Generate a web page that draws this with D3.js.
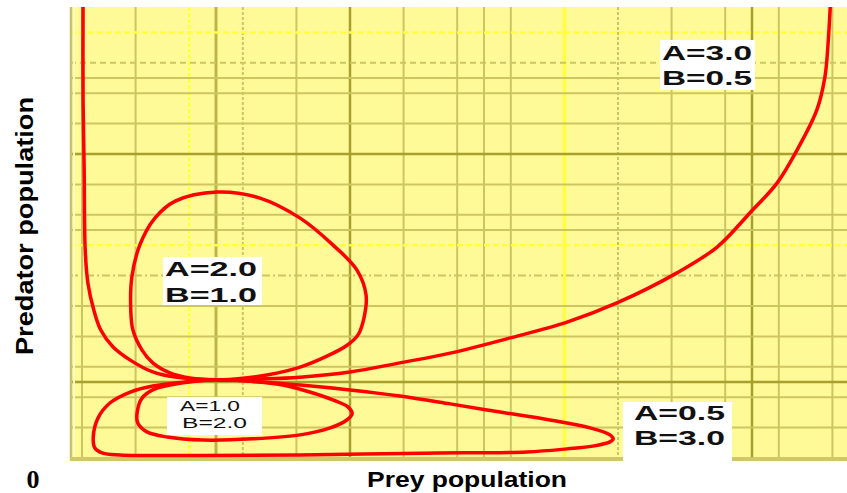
<!DOCTYPE html>
<html>
<head>
<meta charset="utf-8">
<script src="https://cdn.jsdelivr.net/npm/d3@7"></script>
<style>
  html, body { margin: 0; padding: 0; background: #ffffff; }
  svg { display: block; }
</style>
</head>
<body>
<div id="chart"></div>
<script>
// ---------- data (grid units) ----------
const xGridTicks = [0, 1, 2, 2.5, 3, 4, 5, 6, 7, 7.5, 8, 9, 10, 11, 12, 12.5, 13, 14];
const yGridTicks = [1, 2, 2.5, 3, 4, 5, 6, 7, 7.5, 8, 9, 10, 11, 12, 12.5, 13, 14];

// orbit A=2.0, B=1.0 (closed)
const orbitA2B1 = [
  [2.52,2.57],[2.01,2.63],[1.64,2.80],[1.32,3.13],[1.12,3.55],[0.95,4.21],[0.91,4.87],
  [0.93,5.95],[1.08,7.01],[1.36,7.89],[1.74,8.45],[2.52,8.75],[3.32,8.55],[4.07,7.89],
  [4.68,7.01],[5.13,6.18],[5.30,5.36],[5.26,4.60],[5.15,4.05],[4.94,3.70],[4.57,3.35],
  [4.07,2.99],[3.45,2.73],[3.00,2.62]
];
// orbit A=1.0, B=2.0 (closed)
const orbitA1B2 = [
  [2.52,2.57],[1.64,2.40],[1.32,2.24],[1.12,1.97],[1.03,1.51],[1.04,1.15],[1.21,0.86],
  [1.59,0.69],[2.26,0.59],[3.19,0.63],[4.07,0.76],[4.63,0.99],[4.94,1.25],[5.04,1.45],
  [4.96,1.68],[4.68,1.91],[4.25,2.17],[3.75,2.40],[3.32,2.50]
];
// orbit A=0.5, B=3.0 (closed)
const orbitA05B3 = [
  [2.52,2.57],[1.92,2.50],[1.32,2.37],[0.90,2.17],[0.52,1.81],[0.30,1.32],[0.21,0.69],
  [0.24,0.33],[0.39,0.16],[0.71,0.10],[2.20,0.08],[4.07,0.10],[6.36,0.16],[8.30,0.20],
  [9.05,0.30],[9.53,0.39],[9.85,0.53],[9.91,0.63],[9.85,0.76],[9.48,0.99],[8.73,1.25],
  [7.80,1.51],[6.87,1.78],[5.93,2.04],[5.00,2.24],[4.07,2.40],[3.32,2.50]
];
// orbit A=3.0, B=0.5 (leaves the plot at the top)
const orbitA3B05 = [
  [0.02,15.2],[0.02,11.78],[0.04,9.57],[0.06,6.84],[0.11,5.76],[0.22,4.87],[0.35,4.21],
  [0.58,3.65],[0.90,3.22],[1.32,2.83],[1.74,2.66],[2.52,2.57],[3.32,2.60],[4.07,2.66],
  [5.00,2.83],[5.93,3.13],[6.87,3.45],[7.99,3.95],[9.05,4.47],[9.98,5.10],[11.10,6.09],
  [11.85,6.94],[12.46,8.06],[12.97,9.05],[13.34,10.13],[13.71,11.45],[13.86,12.53],
  [13.92,13.65],[13.97,15.2]
];

const labelLines = [
  ["A=3.0", "B=0.5"],
  ["A=2.0", "B=1.0"],
  ["A=1.0", "B=2.0"],
  ["A=0.5", "B=3.0"]
];
const xTitle = "Prey population";
const yTitle = "Predator population";
const originLabel = "0";

// ---------- layout ----------
const W = 847, H = 493;
const plot = { left: 70, top: 7, right: 847, bottom: 458 };

const x = d3.scaleLinear().domain([0, 14]).range([82, 832.4]);
const y = d3.scaleLinear().domain([0, 14]).range([458, 32.4]);

const svg = d3.select("#chart").append("svg")
  .attr("width", W).attr("height", H);

svg.append("defs").append("clipPath").attr("id", "clip")
  .append("rect")
  .attr("x", plot.left).attr("y", plot.top)
  .attr("width", plot.right - plot.left).attr("height", plot.bottom - plot.top);

// background
svg.append("rect")
  .attr("x", plot.left).attr("y", plot.top)
  .attr("width", plot.right - plot.left).attr("height", plot.bottom - plot.top)
  .attr("fill", "#fffa98");

const OLIVE = "#cdc560", DARK = "#a89f2c", BRIGHT = "#ffff40";
function vStyle(v) {
  if (v === 2) return { c: BRIGHT, w: 2.5, d: "4,2" };
  if (v === 9) return { c: BRIGHT, w: 3.5, d: null };
  if (v === 3 || v === 10) return { c: OLIVE, w: 2, d: "3,2" };
  if (v === 5 || v === 12.5) return { c: DARK, w: 2.5, d: null };
  if (v === 2.5) return { c: "#bdb548", w: 3, d: null };
  return { c: OLIVE, w: 2, d: null };
}
function hStyle(v) {
  if (v === 14 || v === 7) return { c: BRIGHT, w: 2.5, d: "6,3" };
  if (v === 13) return { c: OLIVE, w: 2, d: "6,4" };
  if (v === 6) return { c: OLIVE, w: 2, d: "8,3,2,3" };
  if (v === 10 || v === 2.5) return { c: DARK, w: 2.5, d: null };
  return { c: OLIVE, w: 2, d: null };
}

const grid = svg.append("g").attr("clip-path", "url(#clip)");
grid.selectAll("line.v").data(xGridTicks).join("line")
  .attr("class", "v")
  .attr("x1", d => x(d)).attr("x2", d => x(d))
  .attr("y1", plot.top).attr("y2", plot.bottom)
  .attr("stroke", d => vStyle(d).c)
  .attr("stroke-width", d => vStyle(d).w)
  .attr("stroke-dasharray", d => vStyle(d).d);
grid.selectAll("line.h").data(yGridTicks).join("line")
  .attr("class", "h")
  .attr("y1", d => y(d)).attr("y2", d => y(d))
  .attr("x1", plot.left).attr("x2", plot.right)
  .attr("stroke", d => hStyle(d).c)
  .attr("stroke-width", d => hStyle(d).w)
  .attr("stroke-dasharray", d => hStyle(d).d);

// frame (left edge and bevelled bottom)
svg.append("line")
  .attr("x1", plot.left + 1).attr("x2", plot.left + 1)
  .attr("y1", plot.top).attr("y2", plot.bottom + 3)
  .attr("stroke", "#c9c068").attr("stroke-width", 2.5);
svg.append("line")
  .attr("x1", plot.left + 4).attr("x2", plot.left + 4)
  .attr("y1", plot.top).attr("y2", plot.bottom)
  .attr("stroke", "#fdfcc0").attr("stroke-width", 2);
svg.append("rect")
  .attr("x", plot.left).attr("y", plot.bottom - 1)
  .attr("width", plot.right - plot.left).attr("height", 4)
  .attr("fill", "#cfc768");

// orbits
const curves = svg.append("g").attr("clip-path", "url(#clip)");
const closedLine = d3.line().x(d => x(d[0])).y(d => y(d[1])).curve(d3.curveCatmullRomClosed.alpha(0.5));
const openLine = d3.line().x(d => x(d[0])).y(d => y(d[1])).curve(d3.curveCatmullRom.alpha(0.5));
[orbitA2B1, orbitA1B2, orbitA05B3].forEach(o => {
  curves.append("path").attr("d", closedLine(o))
    .attr("fill", "none").attr("stroke", "#ff0000").attr("stroke-width", 3.5)
    .attr("stroke-linejoin", "round");
});
curves.append("path").attr("d", openLine(orbitA3B05))
  .attr("fill", "none").attr("stroke", "#ff0000").attr("stroke-width", 3.5)
  .attr("stroke-linejoin", "round");

// labels
const boxes = [
  { box: [660, 40, 95, 50], tx: [662, 662], ty: [60, 85], len: [90, 90], size: 20, weight: "bold" },
  { box: [163, 257, 99, 48], tx: [165, 165], ty: [276, 302], len: [92, 92], size: 20, weight: "bold" },
  { box: [167, 397, 95, 38], tx: [180, 182], ty: [411, 428], len: [60, 65], size: 14, weight: "normal" },
  { box: [623, 402, 109, 60], tx: [634, 634], ty: [420, 445], len: [91, 91], size: 20, weight: "bold" }
];
boxes.forEach((b, i) => {
  const g = svg.append("g");
  g.append("rect").attr("x", b.box[0]).attr("y", b.box[1])
    .attr("width", b.box[2]).attr("height", b.box[3]).attr("fill", "#ffffff");
  labelLines[i].forEach((t, j) => {
    g.append("text").attr("x", b.tx[j]).attr("y", b.ty[j])
      .attr("font-family", "'Liberation Sans', Arial, sans-serif")
      .attr("font-size", b.size).attr("font-weight", b.weight)
      .attr("fill", "#111")
      .attr("textLength", b.len[j]).attr("lengthAdjust", "spacingAndGlyphs")
      .text(t);
  });
});

// axis titles
svg.append("text")
  .attr("x", 367).attr("y", 487)
  .attr("font-family", "'Liberation Sans', Arial, sans-serif")
  .attr("font-size", 22).attr("font-weight", "bold").attr("fill", "#000")
  .attr("textLength", 200).attr("lengthAdjust", "spacingAndGlyphs")
  .text(xTitle);
svg.append("text")
  .attr("transform", "translate(33,355) rotate(-90)")
  .attr("font-family", "'Liberation Sans', Arial, sans-serif")
  .attr("font-size", 24).attr("font-weight", "bold").attr("fill", "#000")
  .attr("textLength", 258).attr("lengthAdjust", "spacingAndGlyphs")
  .text(yTitle);
svg.append("text")
  .attr("x", 33).attr("y", 488).attr("text-anchor", "middle")
  .attr("font-family", "'Liberation Serif', 'Times New Roman', serif")
  .attr("font-size", 26).attr("font-weight", "bold").attr("fill", "#000")
  .text(originLabel);
</script>
</body>
</html>
